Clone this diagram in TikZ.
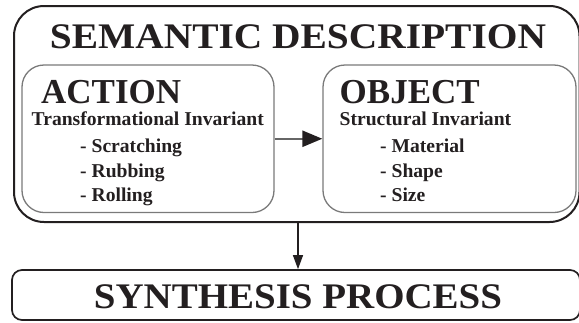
\documentclass[tikz,border=0pt]{standalone}
\usepackage{fontspec}
\setmainfont{Liberation Serif}
\usetikzlibrary{arrows.meta}
\definecolor{ink}{HTML}{231F20}
\definecolor{framegray}{HTML}{7A7A7A}
\definecolor{shaftgray}{HTML}{666666}
\tikzset{
  outerbox/.style={draw=ink, line width=2pt, rounded corners=30pt, inner sep=0pt},
  innerbox/.style={draw=framegray, line width=1.3pt, rounded corners=22pt, inner sep=0pt},
  bottombox/.style={draw=ink, line width=1.7pt, rounded corners=10pt, inner sep=0pt},
  bigtitle/.style={anchor=base, inner sep=0pt, text=ink, font=\fontsize{36}{37}\selectfont\bfseries},
  boxtitle/.style={anchor=base west, inner sep=0pt, text=ink, font=\fontsize{35}{36}\selectfont\bfseries},
  subtitle/.style={anchor=base west, inner sep=0pt, text=ink, font=\fontsize{19.6}{20}\selectfont\bfseries},
  itemtext/.style={anchor=base west, inner sep=0pt, text=ink, font=\fontsize{19.6}{20}\selectfont\bfseries},
}
\begin{document}
\begin{tikzpicture}[x=1pt,y=-1pt]
\useasboundingbox (0,0) rectangle (579,322);
% boxes
\node[outerbox, minimum width=565.5pt, minimum height=216pt] (outer) at (296.75,114) {};
\node[innerbox, minimum width=252pt, minimum height=147.5pt] (action) at (148,138.75) {};
\node[innerbox, minimum width=253pt, minimum height=147.5pt] (object) at (449.5,138.75) {};
\node[bottombox, minimum width=568pt, minimum height=50pt] (synth) at (296,295) {};
% texts
\node[bigtitle] (semt) at (298,48) {\scalebox{1.095}[1]{SEMANTIC DESCRIPTION}};
\node[boxtitle] (actt) at (41,103) {ACTION};
\node[subtitle] (acts) at (31.5,125) {Transformational Invariant};
\node[itemtext] (a1) at (80,152) {- Scratching};
\node[itemtext] (a2) at (80,177) {- Rubbing};
\node[itemtext] (a3) at (80,201) {- Rolling};
\node[boxtitle] (objt) at (339.5,103) {OBJECT};
\node[subtitle] (objs) at (339.5,125) {Structural Invariant};
\node[itemtext] (o1) at (380,152) {- Material};
\node[itemtext] (o2) at (380,177) {- Shape};
\node[itemtext] (o3) at (380,201) {- Size};
\node[bigtitle] (synt) at (298,308) {\scalebox{1.082}[1]{SYNTHESIS PROCESS}};
% connectors
\draw[shaftgray, line width=2.5pt, -{Triangle[length=20pt,width=16pt,color=ink,fill=ink]}] (action.east) -- (object.west);
\coordinate (vtop) at (298,222);
\draw[ink, line width=1.2pt, -{Triangle[length=14pt,width=10pt]}] (vtop) -- (vtop |- synth.north);
\end{tikzpicture}
\end{document}
